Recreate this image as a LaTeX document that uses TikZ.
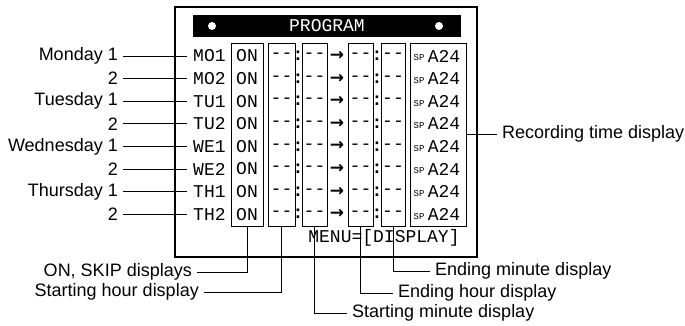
\documentclass[tikz,border=0pt]{standalone}
\usepackage{fontspec}
\setmainfont{Liberation Sans}
\newfontfamily\lcdfont{Liberation Mono}
\newfontfamily\symfont{DejaVu Sans}
\usetikzlibrary{arrows.meta, positioning, calc}

\begin{document}
\begin{tikzpicture}[
    x=1pt, y=-1pt,
    callout/.style={font=\fontsize{18}{18}\selectfont, inner ysep=0pt, inner xsep=5pt},
    lcd/.style={font=\lcdfont\fontsize{18}{18}\selectfont, inner sep=0pt},
    tiny/.style={font=\lcdfont\fontsize{9}{9}\selectfont, inner sep=0pt},
    column/.style={draw, line width=1pt, minimum height=182pt, inner sep=0pt},
    leader/.style={line width=0.8pt}
  ]
  \useasboundingbox (0,0) rectangle (685,326);

  % display frame and title bar
  \node[draw, line width=2.4pt, minimum width=302pt, minimum height=250pt] (frame) at (326,132) {};
  \node[fill=black, text=white, lcd, minimum width=268pt, minimum height=22pt] (title) at (327,26) {PROGRAM};
  \node[circle, fill=white, minimum size=8pt, inner sep=0pt] (ldot) at (212,26) {};
  \node[circle, fill=white, minimum size=8pt, inner sep=0pt] (rdot) at (439,26) {};

  % column boxes
  \node[column, minimum width=32pt] (onbox)  at (247,135) {};
  \node[column, minimum width=27pt] (shbox)  at (281.5,135) {};
  \node[column, minimum width=25pt] (smbox)  at (314.5,135) {};
  \node[column, minimum width=25pt] (ehbox)  at (360.5,135) {};
  \node[column, minimum width=24pt] (embox)  at (393,135) {};
  \node[column, minimum width=56pt] (recbox) at (438,135) {};

  % program rows
  \foreach \code/\day [count=\i from 0] in {MO1/Monday 1, MO2/2, TU1/Tuesday 1, TU2/2,
      WE1/Wednesday 1, WE2/2, TH1/Thursday 1, TH2/2} {
    \pgfmathsetmacro\ry{56+22.6*\i}
    \node[lcd, anchor=west, inner xsep=6pt] (\code) at (187,\ry) {\code};
    \node[callout, anchor=east] (day\code) at (123,\ry) {\day};
    \draw[leader] (day\code.east) -- (\code.west);
    \node[lcd] (on\code) at (247,\ry) {ON};
    \node[lcd] (sh\code) at (281.5,\ry) {-{}-};
    \node[lcd] (ca\code) at (298,\ry) {\bfseries :};
    \node[lcd] (sm\code) at (314.5,\ry) {-{}-};
    \node[font=\symfont\bfseries\fontsize{17}{17}\selectfont, inner sep=0pt] (to\code) at (337,\ry) {→};
    \node[lcd] (eh\code) at (360.5,\ry) {-{}-};
    \node[lcd] (cb\code) at (377,\ry) {\bfseries :};
    \node[lcd] (em\code) at (393,\ry) {-{}-};
    \node[tiny] (sp\code) at (419,\ry+2) {SP};
    \node[lcd] (rt\code) at (444,\ry) {A24};
  }
  \node[lcd] (menu) at (384,238) {MENU=[DISPLAY]};

  % callouts
  \node[callout, anchor=east] (onlab)  at (197,272) {ON, SKIP displays};
  \node[callout, anchor=east] (shlab)  at (204,292) {Starting hour display};
  \node[callout, anchor=west] (smlab)  at (347,313) {Starting minute display};
  \node[callout, anchor=west] (ehlab)  at (393,293) {Ending hour display};
  \node[callout, anchor=west] (emlab)  at (430,271) {Ending minute display};
  \node[callout, anchor=west] (reclab) at (497,134) {Recording time display};

  \draw[leader] (onbox.south) |- (onlab.east);
  \draw[leader] (shbox.south) |- (shlab.east);
  \draw[leader] (smbox.south) |- (smlab.west);
  \draw[leader] (ehbox.south) |- (ehlab.west);
  \draw[leader] (embox.south) |- (emlab.west);
  \draw[leader] (recbox.east |- reclab.west) -- (reclab.west);
\end{tikzpicture}
\end{document}
